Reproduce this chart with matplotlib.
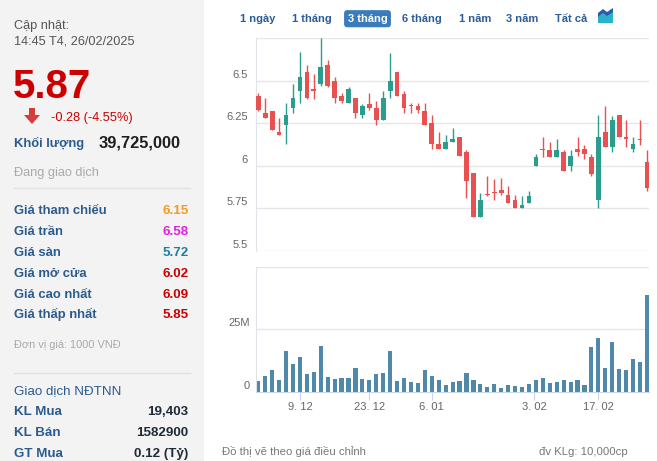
import numpy as np
import matplotlib
matplotlib.use("Agg")
import matplotlib.pyplot as plt
from matplotlib.patches import Rectangle, Polygon
from matplotlib.lines import Line2D
import matplotlib.transforms as mtransforms

plt.rcParams['font.family'] = ['Liberation Sans', 'DejaVu Sans']

W, H = 657, 461

# 1. Du lieu nen (OHLC) - doc tu hinh
opens = [6.41, 6.31, 6.32, 6.20, 6.24, 6.34, 6.44, 6.55, 6.45, 6.48,
         6.59, 6.50, 6.41, 6.37, 6.40, 6.30, 6.36, 6.34, 6.27, 6.44,
         6.55, 6.42, 6.35, 6.35, 6.32, 6.25, 6.13, 6.10, 6.14, 6.17,
         6.08, 5.96, 5.70, 5.83, 5.84, 5.86, 5.83, 5.80, 5.75, 5.78,
         6.00, 6.09, 6.09, 6.05, 6.08, 6.00, 6.10, 6.10, 6.05, 5.80,
         6.20, 6.11, 6.30, 6.17, 6.10, 6.15, 6.02]
highs = [6.43, 6.40, 6.32, 6.28, 6.37, 6.48, 6.67, 6.59, 6.54, 6.75,
         6.62, 6.52, 6.43, 6.46, 6.40, 6.36, 6.43, 6.38, 6.44, 6.66,
         6.55, 6.44, 6.37, 6.37, 6.37, 6.30, 6.20, 6.18, 6.22, 6.17,
         6.09, 5.96, 5.84, 5.94, 5.92, 5.93, 5.88, 5.83, 5.82, 5.85,
         6.07, 6.17, 6.14, 6.16, 6.09, 6.09, 6.17, 6.12, 6.07, 6.30,
         6.35, 6.29, 6.30, 6.27, 6.17, 6.27, 6.09]
lows = [6.32, 6.28, 6.21, 6.18, 6.13, 6.31, 6.37, 6.39, 6.39, 6.47,
        6.46, 6.37, 6.37, 6.37, 6.28, 6.28, 6.33, 6.24, 6.27, 6.40,
        6.41, 6.31, 6.31, 6.31, 6.24, 6.10, 6.10, 6.10, 6.14, 6.06,
        5.81, 5.70, 5.70, 5.82, 5.80, 5.83, 5.78, 5.75, 5.75, 5.78,
        6.00, 6.05, 6.05, 6.05, 5.97, 5.97, 6.06, 6.04, 5.94, 5.75,
        6.11, 6.08, 6.17, 6.11, 6.08, 6.12, 5.85]
closes = [6.33, 6.28, 6.21, 6.18, 6.30, 6.40, 6.52, 6.40, 6.44, 6.58,
          6.47, 6.40, 6.38, 6.45, 6.31, 6.35, 6.34, 6.27, 6.40, 6.50,
          6.41, 6.34, 6.35, 6.33, 6.24, 6.13, 6.10, 6.14, 6.16, 6.06,
          5.91, 5.70, 5.80, 5.83, 5.84, 5.84, 5.78, 5.75, 5.77, 5.82,
          6.05, 6.09, 6.05, 6.09, 5.97, 6.06, 6.08, 6.07, 5.95, 6.17,
          6.11, 6.27, 6.17, 6.16, 6.13, 6.15, 5.87]
# khoi luong, trieu co phieu
volumes = [4.3, 6.4, 8.8, 4.8, 16.2, 10.9, 13.7, 7.2, 8.0, 18.2,
           6.0, 5.2, 5.3, 5.6, 9.6, 5.2, 4.8, 7.2, 7.5, 16.2,
           4.3, 5.6, 3.9, 3.5, 8.8, 6.4, 4.8, 2.7, 3.9, 4.3,
           7.6, 4.8, 3.1, 1.9, 3.1, 1.5, 2.7, 2.3, 1.9, 3.1,
           4.8, 5.6, 3.5, 3.9, 4.8, 3.9, 4.8, 2.7, 17.8, 21.5,
           9.6, 19.8, 9.2, 8.8, 12.9, 11.7, 38.6]

price_ticks = [5.5, 5.75, 6.0, 6.25, 6.5]
vol_ticks = [0, 25]
vol_tick_labels = ["0", "25M"]
date_ticks = [6, 16, 25, 39.8, 49]
date_labels = ["9. 12", "23. 12", "6. 01", "3. 02", "17. 02"]

tabs = ["1 ngày", "1 tháng", "3 tháng", "6 tháng", "1 năm", "3 năm", "Tất cả"]
tab_x = [258, 312, 367.5, 422, 475, 522, 571]

info_labels = ["Giá tham chiếu", "Giá trần", "Giá sàn", "Giá mở cửa", "Giá cao nhất", "Giá thấp nhất"]
info_values = ["6.15", "6.58", "5.72", "6.02", "6.09", "5.85"]
info_colors = ["#f39a1f", "#e01ee0", "#1a7ea6", "#c80000", "#c80000", "#c80000"]

foreign_labels = ["KL Mua", "KL Bán", "GT Mua"]
foreign_values = ["19,403", "1582900", "0.12 (Tỷ)"]

UP = "#2a9d8c"
DOWN = "#e8514f"
BLUE = "#2b5b8e"


def fx(x):
    return x / W


def fy(y):
    return 1 - y / H


fig = plt.figure(figsize=(W / 100, H / 100), dpi=100)
fig.patch.set_facecolor("white")

# 2. Cot thong tin ben trai
fig.add_artist(Rectangle((0, 0), fx(204), 1, transform=fig.transFigure,
                         facecolor="#f3f3f3", edgecolor="none", zorder=0))

fig.text(fx(14), fy(28.5), "Cập nhật:", fontsize=9.2, color="#555555", va="baseline")
fig.text(fx(14), fy(44), "14:45 T4, 26/02/2025", fontsize=9.2, color="#555555", va="baseline")
fig.text(fx(13), fy(98), "5.87", fontsize=29, fontweight="bold", color="#cc0000", va="baseline")

arrow = [(29, 108), (35, 108), (35, 115), (40, 115), (32, 124), (24, 115), (29, 115)]
fig.add_artist(Polygon([(fx(a), fy(b)) for a, b in arrow], closed=True,
                       transform=fig.transFigure, facecolor="#d83b3b", edgecolor="none"))
fig.text(fx(51), fy(120.7), "-0.28 (-4.55%)", fontsize=9.2, color="#cc0000", va="baseline")

fig.text(fx(14), fy(147.5), "Khối lượng", fontsize=9.4, fontweight="bold", color=BLUE, va="baseline")
fig.text(fx(99), fy(147.3), "39,725,000", fontsize=11.8, fontweight="bold", color="#1e1e1e", va="baseline")
fig.text(fx(14), fy(175.6), "Đang giao dịch", fontsize=9.2, color="#aaaaaa", va="baseline")

fig.add_artist(Line2D([fx(14), fx(190)], [fy(188), fy(188)], transform=fig.transFigure,
                      color="#e2e2e2", lw=1))

for k, (lbl, val, col) in enumerate(zip(info_labels, info_values, info_colors)):
    yb = 214.4 + k * 20.8
    fig.text(fx(14), fy(yb), lbl, fontsize=9.4, fontweight="bold", color=BLUE, va="baseline")
    fig.text(fx(188.5), fy(yb), val, fontsize=9.6, fontweight="bold", color=col,
             va="baseline", ha="right")

fig.text(fx(14), fy(348.3), "Đơn vị giá: 1000 VNĐ", fontsize=7.9, color="#aaaaaa", va="baseline")
fig.add_artist(Line2D([fx(14), fx(190)], [fy(373.3), fy(373.3)], transform=fig.transFigure,
                      color="#e2e2e2", lw=1))
fig.text(fx(14), fy(394), "Giao dịch NĐTNN", fontsize=9.6, color=BLUE, va="baseline")
for k, (lbl, val) in enumerate(zip(foreign_labels, foreign_values)):
    yb = 415 + k * 20.85
    fig.text(fx(14), fy(yb), lbl, fontsize=9.6, fontweight="bold", color=BLUE, va="baseline")
    fig.text(fx(188.5), fy(yb), val, fontsize=9.6, fontweight="bold", color="#1f2a38",
             va="baseline", ha="right")

# 3. Cac nut chon thoi gian
for lbl, x in zip(tabs, tab_x):
    if lbl == "3 tháng":
        fig.text(fx(x), fy(21.7), lbl, fontsize=8, fontweight="bold", color="white",
                 ha="center", va="baseline",
                 bbox=dict(boxstyle="round,pad=0.32,rounding_size=0.3", fc="#3a7bbd", ec="none"))
    else:
        fig.text(fx(x), fy(21.7), lbl, fontsize=8, fontweight="bold", color="#2b5c99",
                 ha="center", va="baseline")

icon_back = [(598, 23), (598, 13), (603, 9), (607, 12), (613, 8), (613, 23)]
icon_front = [(598, 23), (598, 17), (603, 13), (607, 16), (613, 12), (613, 23)]
fig.add_artist(Polygon([(fx(a), fy(b)) for a, b in icon_back], closed=True,
                       transform=fig.transFigure, facecolor="#2c5aa8", edgecolor="none"))
fig.add_artist(Polygon([(fx(a), fy(b)) for a, b in icon_front], closed=True,
                       transform=fig.transFigure, facecolor="#2ab3c8", edgecolor="none"))

# 4. Bieu do nen
n = len(opens)
idx = np.arange(n)
x_left, x_right = 255.7, 649
xlim = (-0.375, 56.3)

ax = fig.add_axes([fx(x_left), fy(251), fx(x_right - x_left), (251 - 38) / H])
ax.set_xlim(*xlim)
ax.set_ylim(5.5, 6.75)
for v in price_ticks + [6.75]:
    ax.axhline(v, color="#e6e6e6", lw=1, zorder=0)
o = np.array(opens)
c = np.array(closes)
is_up = c > o
colors = np.where(is_up, UP, DOWN)
ax.vlines(idx, lows, highs, colors=colors, lw=1, zorder=2)
body_h = np.maximum(np.abs(c - o), 0.006)
ax.bar(idx, body_h, bottom=np.minimum(o, c), width=0.68, color=colors, zorder=3, linewidth=0)
for s in ["top", "right", "bottom"]:
    ax.spines[s].set_visible(False)
ax.spines["left"].set_color("#dfe3ea")
ax.set_xticks([])
ax.set_yticks([])
blend = mtransforms.blended_transform_factory(ax.transAxes, ax.transData)
for v in price_ticks:
    ax.annotate(f"{v:g}", xy=(0, v), xycoords=blend, xytext=(-8, 6), textcoords="offset pixels",
                ha="right", va="center", fontsize=8, color="#666666")

# 5. Bieu do khoi luong
axv = fig.add_axes([fx(x_left), fy(391.7), fx(x_right - x_left), 125 / H])
axv.set_xlim(*xlim)
axv.set_ylim(0, 50)
axv.axhline(25, color="#e6e6e6", lw=1, zorder=0)
axv.axhline(50, color="#e6e6e6", lw=1, zorder=0)
axv.bar(idx, volumes, width=0.6, color="#4f88a8", zorder=2, linewidth=0)
for s in ["top", "right"]:
    axv.spines[s].set_visible(False)
axv.spines["left"].set_color("#dfe3ea")
axv.spines["bottom"].set_color("#ccd6eb")
axv.set_yticks([])
axv.set_xticks(date_ticks)
axv.set_xticklabels(date_labels, fontsize=8, color="#666666")
axv.tick_params(axis="x", length=5.5, color="#ccd6eb", pad=2)
blend_v = mtransforms.blended_transform_factory(axv.transAxes, axv.transData)
for v, lbl in zip(vol_ticks, vol_tick_labels):
    axv.annotate(lbl, xy=(0, v), xycoords=blend_v, xytext=(-6, 6), textcoords="offset pixels",
                 ha="right", va="center", fontsize=8, color="#666666")

fig.text(fx(222), fy(455), "Đồ thị vẽ theo giá điều chỉnh", fontsize=8.2, color="#777777", va="baseline")
fig.text(fx(628), fy(455), "đv KLg: 10,000cp", fontsize=8.2, color="#777777", va="baseline", ha="right")

fig.savefig("out.png", dpi=100)
